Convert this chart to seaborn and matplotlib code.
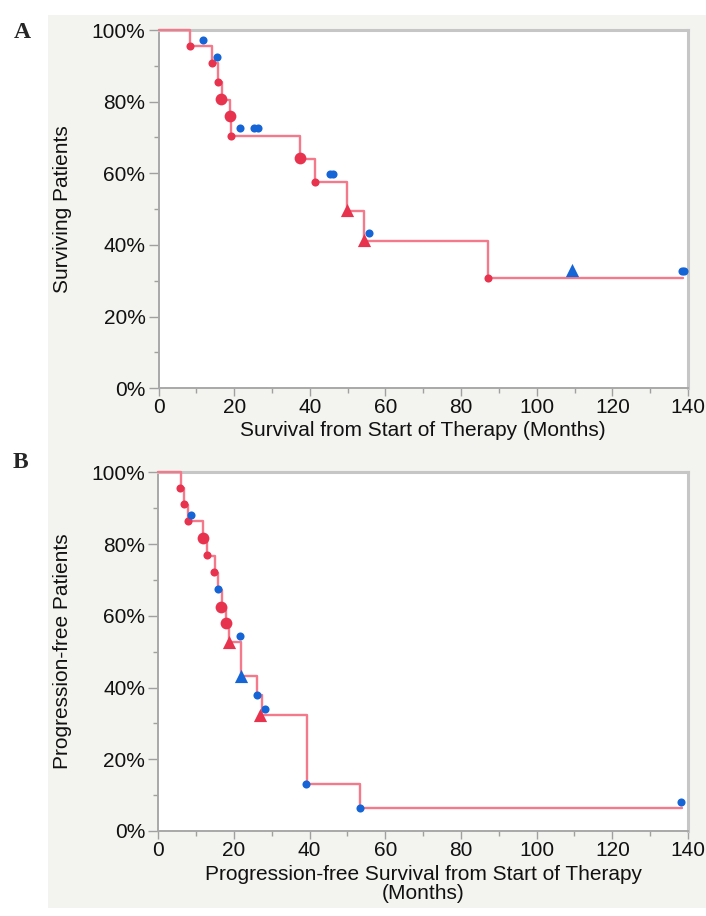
import pandas as pd
import matplotlib
matplotlib.use("Agg")
import matplotlib.pyplot as plt
import seaborn as sns
from matplotlib.patches import Rectangle
from matplotlib.ticker import MultipleLocator, FuncFormatter

# ===== data =====
# A: overall survival, step curve (months, % surviving)
os_step_t = [0, 8.3, 14.0, 15.6, 16.7, 18.9, 19.2, 37.4, 41.4, 49.8, 54.2, 87.0, 138.8]
os_step_s = [100, 95.5, 90.7, 85.6, 80.6, 75.6, 70.5, 64.1, 57.7, 49.5, 41.2, 30.9, 30.9]

os_red_dot_t = [8.3, 14.0, 15.6, 19.2, 41.4, 87.0]
os_red_dot_s = [95.5, 90.7, 85.6, 70.5, 57.7, 30.9]
os_red_big_t = [16.6, 18.8, 37.4]
os_red_big_s = [80.8, 76.0, 64.4]
os_red_tri_t = [49.8, 54.2]
os_red_tri_s = [49.8, 41.4]
os_blue_dot_t = [11.7, 15.5, 21.5, 25.1, 26.4, 45.3, 46.1, 55.6, 138.3, 138.9]
os_blue_dot_s = [97.2, 92.4, 72.6, 72.6, 72.6, 59.8, 59.8, 43.3, 32.8, 32.8]
os_blue_tri_t = [109.3]
os_blue_tri_s = [33.0]

# B: progression-free survival
pfs_step_t = [0, 6.0, 6.8, 7.9, 11.9, 12.9, 14.9, 15.9, 16.8, 17.9, 18.8, 21.9, 26.2, 27.3, 39.2, 53.3, 138.3]
pfs_step_s = [100, 95.5, 90.9, 86.4, 81.6, 76.8, 72.0, 67.2, 62.4, 57.6, 52.8, 43.2, 38.0, 32.4, 13.1, 6.5, 6.5]

pfs_red_dot_t = [5.8, 6.8, 7.8, 12.8, 14.7]
pfs_red_dot_s = [95.7, 91.2, 86.5, 76.9, 72.1]
pfs_red_big_t = [11.7, 16.7, 17.8]
pfs_red_big_s = [81.6, 62.5, 57.9]
pfs_red_tri_t = [18.7, 26.9]
pfs_red_tri_s = [52.8, 32.4]
pfs_blue_dot_t = [8.7, 15.8, 21.7, 26.0, 28.1, 39.0, 53.2, 138.2]
pfs_blue_dot_s = [88.1, 67.4, 54.4, 38.0, 34.1, 13.1, 6.5, 8.2]
pfs_blue_tri_t = [21.9]
pfs_blue_tri_s = [43.2]

# ===== styles =====
LINE_RED = "#f3798b"
RED = "#e8334f"
BLUE = "#1565d6"
PANEL_BG = "#f3f3ef"

MARK_STYLE = {
    "red_dot": (RED, "o", 34),
    "red_big": (RED, "o", 72),
    "red_tri": (RED, "^", 90),
    "blue_dot": (BLUE, "o", 34),
    "blue_tri": (BLUE, "^", 90),
}

sns.set_theme(style="white")
plt.rcParams['font.family'] = ['Liberation Sans', 'DejaVu Sans']

W, H = 706, 916
fig = plt.figure(figsize=(W / 100, H / 100), dpi=100)
fig.patch.set_facecolor("white")
fig.patches.append(Rectangle((48 / W, 1 - 908 / H), (W - 48) / W, (908 - 15) / H,
                             transform=fig.transFigure, facecolor=PANEL_BG,
                             edgecolor="none", zorder=-10))


def draw_panel(ax, step_t, step_s, marks, ylabel, xlabel, xlabel_y):
    ax.set_facecolor("white")
    steps = pd.DataFrame({"months": step_t, "pct": step_s})
    sns.lineplot(data=steps, x="months", y="pct", drawstyle="steps-post",
                 estimator=None, color=LINE_RED, lw=1.7, ax=ax, zorder=3, clip_on=False)
    for kind, (t, s) in marks.items():
        color, marker, size = MARK_STYLE[kind]
        sns.scatterplot(x=t, y=s, color=color, marker=marker, s=size,
                        linewidth=0, ax=ax, zorder=4, clip_on=False)

    ax.set_xlim(0, 140)
    ax.set_ylim(0, 100)
    ax.xaxis.set_major_locator(MultipleLocator(20))
    ax.xaxis.set_minor_locator(MultipleLocator(10))
    ax.yaxis.set_major_locator(MultipleLocator(20))
    ax.yaxis.set_minor_locator(MultipleLocator(10))
    ax.yaxis.set_major_formatter(FuncFormatter(lambda v, p: f"{v:.0f}%"))

    ax.tick_params(axis="both", which="both", direction="out", color="#a0a0a0",
                   labelsize=15, labelcolor="#111111")
    ax.tick_params(axis="x", which="major", length=5.5, width=1, pad=1.5, bottom=True)
    ax.tick_params(axis="x", which="minor", length=3.5, width=1, bottom=True)
    ax.tick_params(axis="y", which="major", length=7, width=1, pad=2.5, left=True)
    ax.tick_params(axis="y", which="minor", length=3.5, width=1, left=True)

    for side in ["left", "bottom"]:
        ax.spines[side].set_color("#a8a8a8")
        ax.spines[side].set_linewidth(1.4)
    for side in ["top", "right"]:
        ax.spines[side].set_color("#c6c6c6")
        ax.spines[side].set_linewidth(2.2)

    ax.set_ylabel(ylabel, fontsize=15, color="#111111")
    ax.yaxis.label.set_va("center")
    ax.yaxis.set_label_coords(-0.1806, 0.5)
    ax.set_xlabel(xlabel, fontsize=15, color="#111111", linespacing=1.0)
    ax.xaxis.label.set_va("center")
    ax.xaxis.set_label_coords(0.5, xlabel_y)


ax_a = fig.add_axes([158.6 / W, 1 - 388.3 / H, 529.4 / W, 358.3 / H])
draw_panel(ax_a, os_step_t, os_step_s,
           {"red_dot": (os_red_dot_t, os_red_dot_s),
            "red_big": (os_red_big_t, os_red_big_s),
            "red_tri": (os_red_tri_t, os_red_tri_s),
            "blue_dot": (os_blue_dot_t, os_blue_dot_s),
            "blue_tri": (os_blue_tri_t, os_blue_tri_s)},
           "Surviving Patients", "Survival from Start of Therapy (Months)", -0.1164)

ax_b = fig.add_axes([158.3 / W, 1 - 831 / H, 529.7 / W, 358.7 / H])
draw_panel(ax_b, pfs_step_t, pfs_step_s,
           {"red_dot": (pfs_red_dot_t, pfs_red_dot_s),
            "red_big": (pfs_red_big_t, pfs_red_big_s),
            "red_tri": (pfs_red_tri_t, pfs_red_tri_s),
            "blue_dot": (pfs_blue_dot_t, pfs_blue_dot_s),
            "blue_tri": (pfs_blue_tri_t, pfs_blue_tri_s)},
           "Progression-free Patients",
           "Progression-free Survival from Start of Therapy\n(Months)", -0.149)

fig.text(22 / W, 1 - 33 / H, "A", family=["Liberation Serif", "DejaVu Serif"],
         fontweight="bold", fontsize=17, ha="center", va="center")
fig.text(20 / W, 1 - 462 / H, "B", family=["Liberation Serif", "DejaVu Serif"],
         fontweight="bold", fontsize=17, ha="center", va="center")

fig.savefig("out.png", dpi=100)
